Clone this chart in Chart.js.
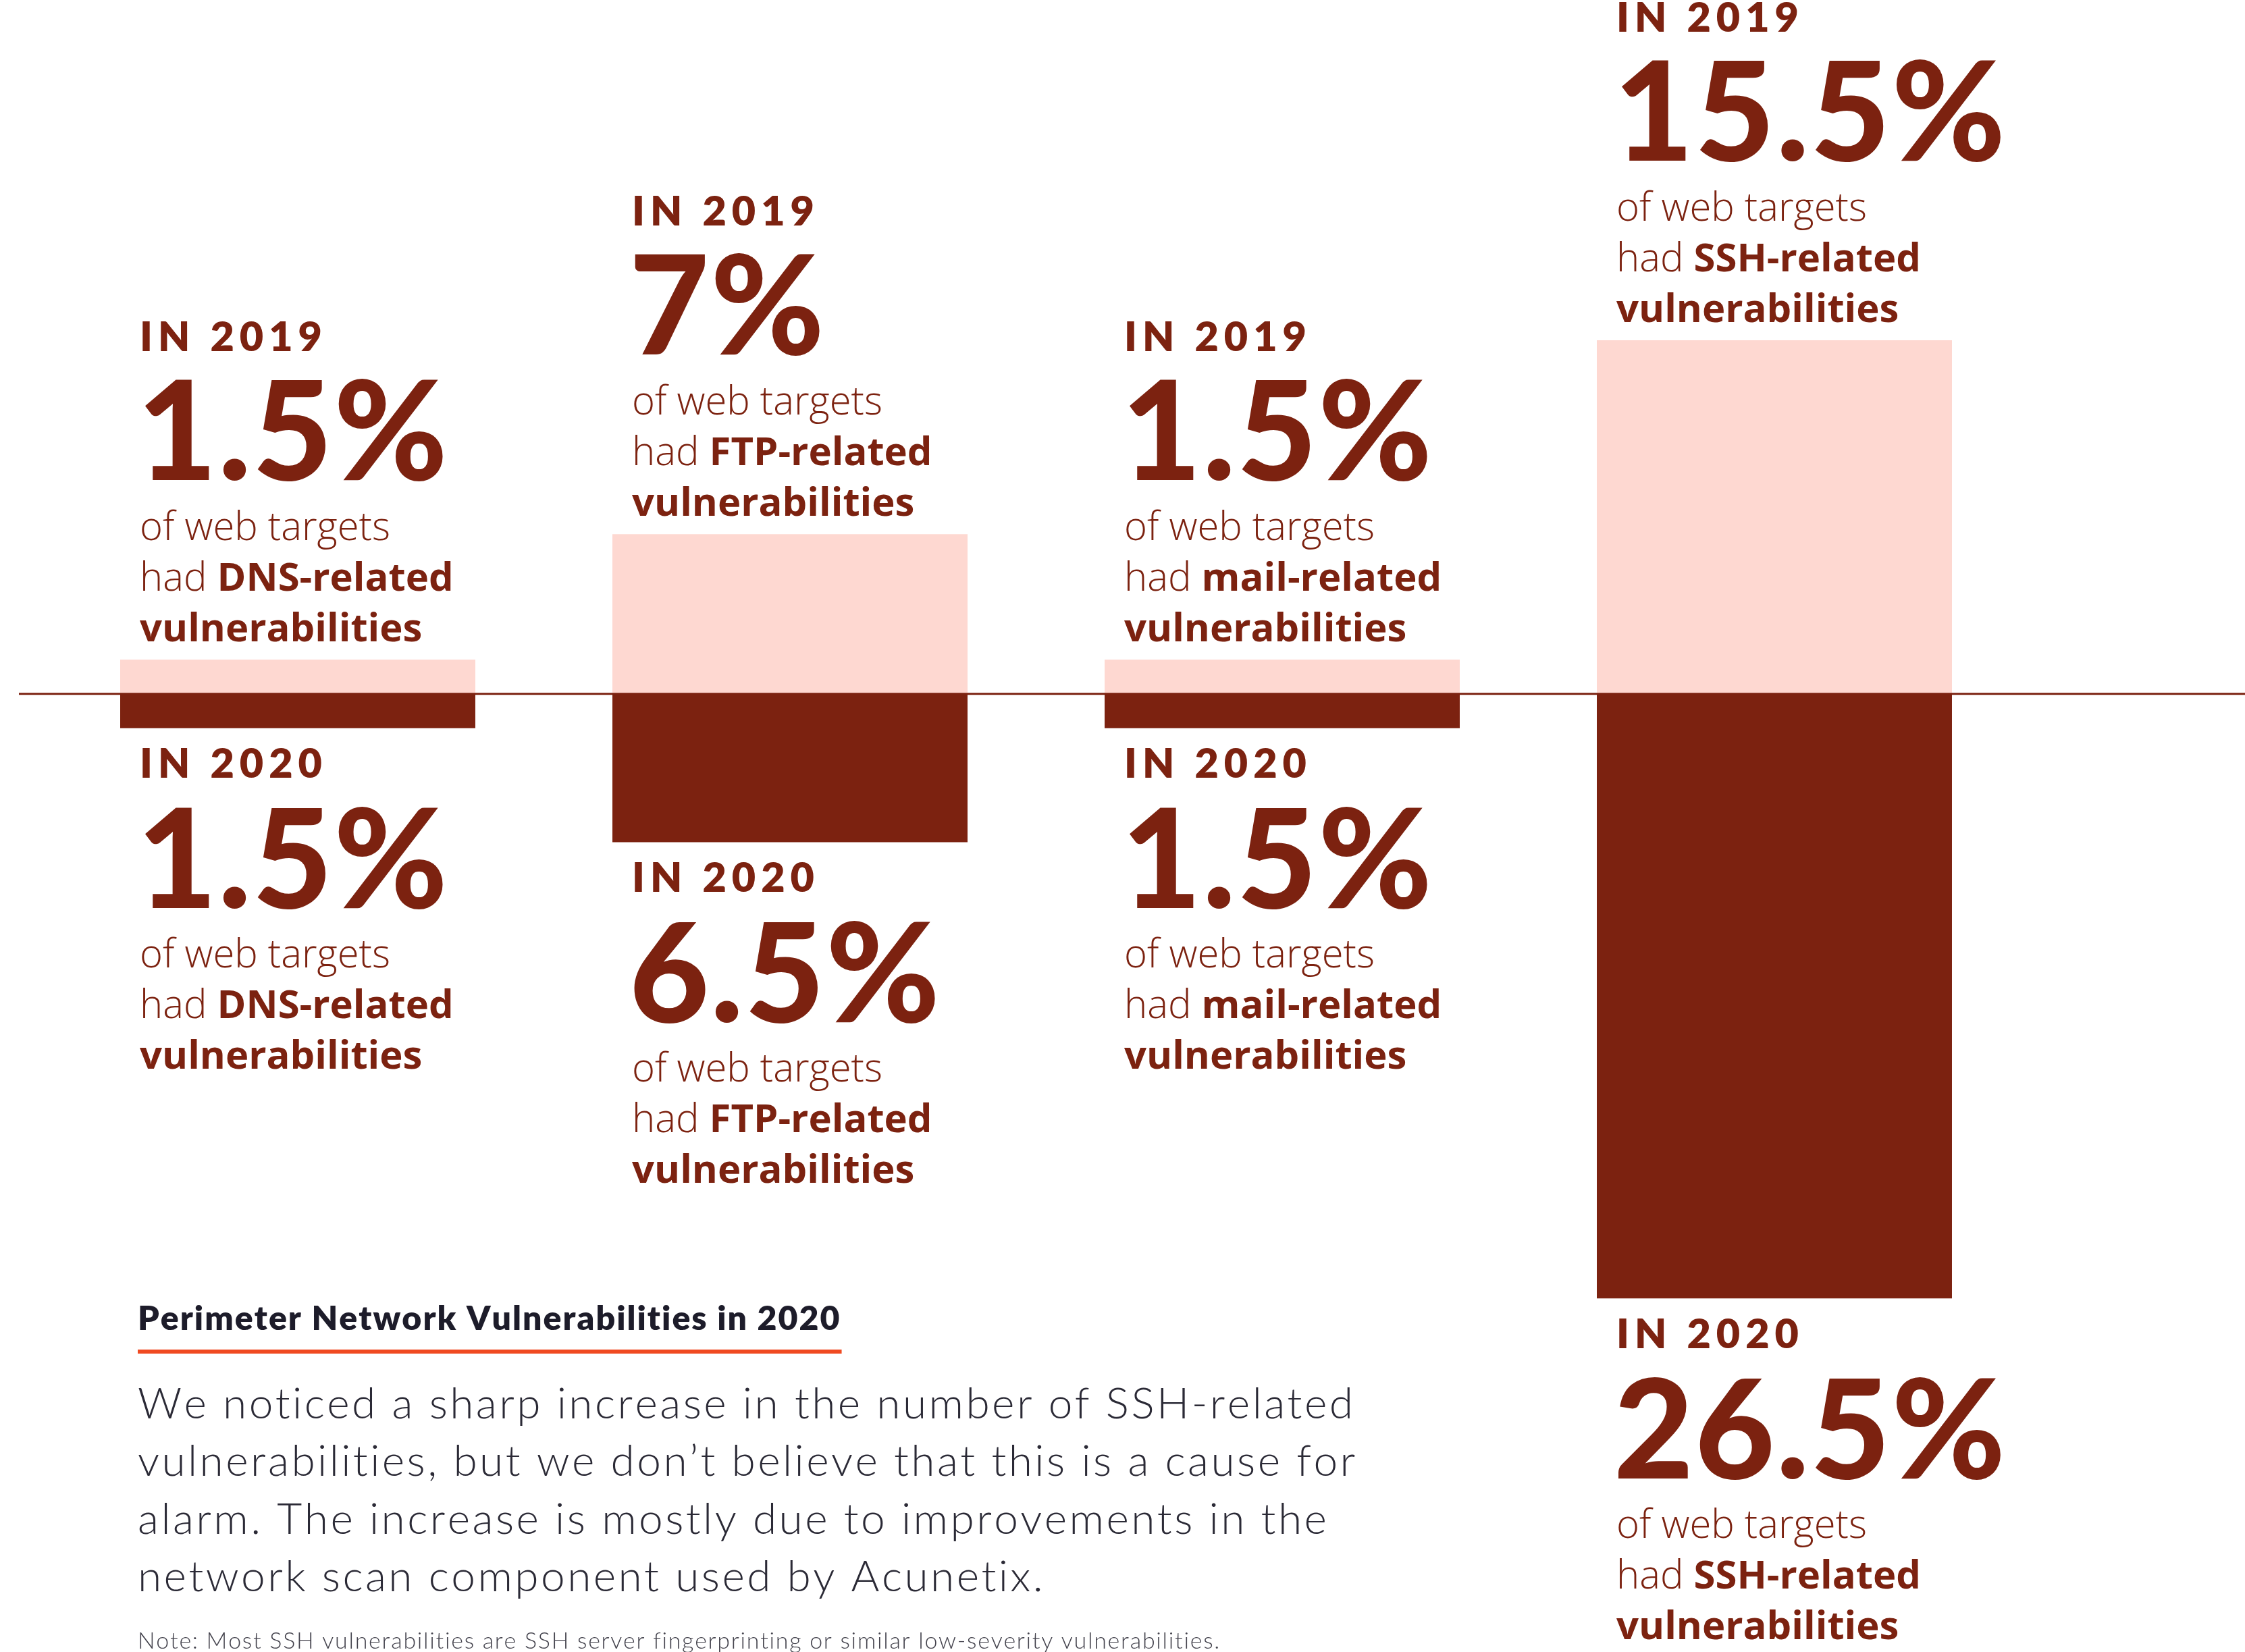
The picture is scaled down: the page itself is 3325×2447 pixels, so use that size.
<!DOCTYPE html>
<html>
<head>
<meta charset="utf-8">
<title>Perimeter Network Vulnerabilities</title>
<script src="https://cdn.jsdelivr.net/npm/chart.js@4.4.1/dist/chart.umd.min.js"></script>
<style>
  html, body { margin: 0; padding: 0; background: #fff; }
  #wrap { position: relative; width: 3325px; height: 2447px; overflow: hidden; }
</style>
</head>
<body>
<div id="wrap"><canvas id="chart"></canvas></div>
<script>
// share of web targets per vulnerability type (%)
const categories = ["DNS", "FTP", "mail", "SSH"];
const values2019 = [1.5, 7, 1.5, 15.5];
const values2020 = [1.5, 6.5, 1.5, 26.5];
const yearLabels = ["IN 2019", "IN 2020"];

const title = "Perimeter Network Vulnerabilities in 2020";
const paragraph = [
  "We noticed a sharp increase in the number of SSH-related",
  "vulnerabilities, but we don\u2019t believe that this is a cause for",
  "alarm. The increase is mostly due to improvements in the",
  "network scan component used by Acunetix.",
];
const note =
  "Note: Most SSH vulnerabilities are SSH server fingerprinting or similar low-severity vulnerabilities.";

const DARK = "#7c2210";
const PINK = "#fed8d1";

// draws text one glyph at a time with extra tracking, returns the end x
function spacedText(ctx, text, x, y, spacing) {
  for (const ch of text) {
    ctx.fillText(ch, x, y);
    x += ctx.measureText(ch).width + spacing;
  }
  return x - spacing;
}

// year, value and description stacked above (dir -1) or below (dir 1) a bar
function drawBlock(ctx, left, edge, dir, year, value, cat) {
  const off = dir < 0 ? [-457, -266, -177, -102, -27] : [74, 267, 355, 430, 505];
  ctx.fillStyle = DARK;
  ctx.textBaseline = "alphabetic";
  ctx.textAlign = "left";

  ctx.font = "800 61px Lato";
  spacedText(ctx, year, left, edge + off[0], 8);

  ctx.font = "900 204px Lato";
  spacedText(ctx, value + "%", left - 4, edge + off[1], 2);

  ctx.font = "300 58px 'Open Sans'";
  ctx.fillText("of web targets", left, edge + off[2]);
  ctx.fillText("had ", left, edge + off[3]);
  const w = ctx.measureText("had ").width;
  ctx.font = "700 58px 'Open Sans'";
  ctx.fillText(cat + "-related", left + w, edge + off[3]);
  ctx.fillText("vulnerabilities", left, edge + off[4]);
}

const labelPlugin = {
  id: "labels",
  afterDatasetsDraw(chart) {
    const ctx = chart.ctx;
    const y0 = chart.scales.y.getPixelForValue(0);

    // zero line runs past the bars to the right edge
    ctx.save();
    ctx.fillStyle = DARK;
    ctx.fillRect(28, y0 - 1.5, chart.width - 28, 3);
    ctx.restore();
  },
  afterDraw(chart) {
    const ctx = chart.ctx;
    const top = chart.getDatasetMeta(0).data;
    const bottom = chart.getDatasetMeta(1).data;
    ctx.save();
    categories.forEach((cat, i) => {
      const left = top[i].x - top[i].width / 2 + 29;
      drawBlock(ctx, left, top[i].y, -1, yearLabels[0], values2019[i], cat);
      drawBlock(ctx, left, bottom[i].y, 1, yearLabels[1], values2020[i], cat);
    });

    // text panel bottom left
    ctx.textAlign = "left";
    ctx.fillStyle = "#1d1c2a";
    ctx.font = "800 50px Lato";
    const end = spacedText(ctx, title, 204, 1970, 2.0);
    ctx.fillStyle = "#f04a22";
    ctx.fillRect(204, 1999, end - 204 + 3, 6);

    ctx.fillStyle = "#2b2a36";
    ctx.font = "300 64px Lato";
    paragraph.forEach((line, k) => {
      spacedText(ctx, line, 204, 2101 + k * 85.3, 3.4);
    });

    ctx.fillStyle = "#44434d";
    ctx.font = "300 34px Lato";
    spacedText(ctx, note, 204, 2442, 1.7);
    ctx.restore();
  },
};

const ctx = document.getElementById("chart").getContext("2d");
new Chart(ctx, {
  type: "bar",
  data: {
    labels: categories,
    datasets: [
      {
        label: "2019",
        data: values2019,
        backgroundColor: PINK,
        borderWidth: 0,
        barPercentage: 0.7215,
        categoryPercentage: 1,
      },
      {
        label: "2020",
        // 2020 hangs below the zero line
        data: values2020.map((v) => -v),
        backgroundColor: DARK,
        borderWidth: 0,
        barPercentage: 0.7215,
        categoryPercentage: 1,
      },
    ],
  },
  options: {
    responsive: true,
    maintainAspectRatio: false,
    animation: false,
    devicePixelRatio: 1,
    layout: { padding: { left: 76.5, right: 332.5, top: 14, bottom: 0 } },
    scales: {
      x: { stacked: true, display: false },
      y: { stacked: true, display: false, min: -42, max: 30 },
    },
    plugins: {
      legend: { display: false },
      tooltip: { enabled: false },
    },
  },
  plugins: [labelPlugin],
});
</script>
</body>
</html>
